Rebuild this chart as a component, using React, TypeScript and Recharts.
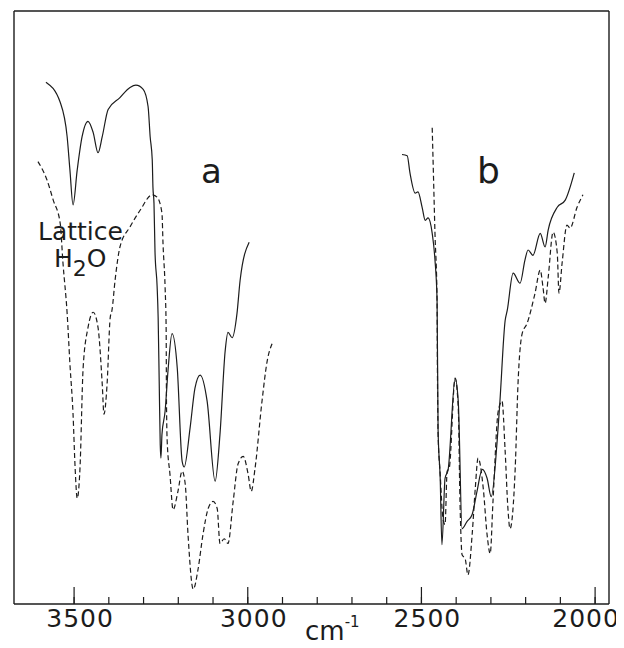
// IR spectrum: solid vs dashed traces, regions a (OH/NH stretch) and b (OD/ND stretch)

import { LineChart, Line, XAxis, YAxis } from 'recharts';

// [wavenumber cm-1, transmittance-ish %]
const solidA: [number, number][] = [
  [3581, 88.0], [3540, 84.6], [3520, 78.8], [3512, 73.2], [3503, 67.3],
  [3491, 73.2], [3477, 78.8], [3460, 81.4], [3445, 79.5], [3431, 76.1],
  [3419, 78.8], [3402, 83.4], [3368, 85.4], [3339, 87.1], [3322, 87.5],
  [3301, 86.8], [3287, 83.9], [3281, 78.8], [3275, 74.9], [3273, 70.3],
  [3270, 67.6], [3267, 59.3], [3261, 53.6], [3258, 48.3], [3255, 37.6],
  [3252, 26.9], [3250, 24.6], [3247, 28.6], [3238, 32.5], [3229, 39.8],
  [3218, 45.6], [3203, 39.8], [3189, 24.1], [3183, 23.1], [3166, 29.7],
  [3152, 36.4], [3137, 38.6], [3117, 34.2], [3094, 20.7], [3080, 28.6],
  [3065, 42.7], [3057, 45.8], [3045, 44.9], [3031, 49.0], [3022, 54.6],
  [2996, 61.0],
];

const dashedA: [number, number][] = [
  [3604, 74.6], [3578, 71.5], [3560, 68.1], [3540, 64.2], [3532, 57.5],
  [3520, 49.0], [3512, 40.5], [3503, 32.0], [3497, 22.9], [3491, 17.8],
  [3483, 22.9], [3474, 39.8], [3460, 46.6], [3445, 49.2], [3431, 46.6],
  [3419, 37.1], [3414, 32.0], [3405, 37.1], [3396, 48.3], [3391, 49.5],
  [3382, 54.6], [3368, 60.2], [3339, 63.6], [3310, 66.4], [3275, 69.0],
  [3261, 68.6], [3247, 65.9], [3244, 60.8], [3238, 53.4], [3235, 46.6],
  [3234, 34.2], [3232, 27.5], [3224, 21.9], [3215, 15.9], [3201, 19.0],
  [3189, 22.4], [3180, 20.2], [3172, 11.7], [3157, 2.5], [3143, 5.9],
  [3129, 11.7], [3114, 16.1], [3100, 17.3], [3088, 16.1], [3080, 10.2],
  [3068, 11.0], [3057, 10.2], [3042, 17.3], [3028, 23.6], [3013, 24.9],
  [2999, 21.9], [2990, 19.0], [2979, 22.9], [2959, 34.2], [2944, 41.0],
  [2930, 43.9],
];

const solidB: [number, number][] = [
  [2556, 75.8], [2541, 75.6], [2533, 72.7], [2518, 69.3], [2510, 69.5],
  [2498, 66.9], [2489, 64.7], [2481, 65.1], [2469, 62.5], [2461, 58.0],
  [2455, 51.2], [2452, 29.2], [2446, 21.2], [2441, 10.0], [2432, 21.2],
  [2423, 22.7], [2403, 38.0], [2394, 34.2], [2383, 12.7], [2369, 13.9],
  [2354, 15.1], [2340, 19.0], [2325, 22.7], [2311, 21.2], [2299, 18.1],
  [2282, 27.5], [2274, 34.2], [2259, 47.8], [2253, 49.5], [2236, 55.8],
  [2216, 54.1], [2202, 58.0], [2193, 59.7], [2179, 58.8], [2158, 62.5],
  [2144, 60.2], [2135, 63.1], [2109, 66.9], [2086, 68.1], [2060, 72.7],
];

const dashedB: [number, number][] = [
  [2469, 80.3], [2466, 73.7], [2461, 62.5], [2455, 51.2], [2454, 39.8],
  [2452, 28.6], [2446, 21.9], [2438, 14.4], [2432, 13.4], [2426, 22.4],
  [2420, 22.9], [2403, 38.1], [2394, 33.1], [2389, 17.3], [2383, 8.3],
  [2374, 7.6], [2366, 4.9], [2354, 11.7], [2345, 19.5], [2337, 24.6],
  [2322, 19.5], [2311, 11.7], [2302, 8.5], [2294, 17.3], [2279, 32.5],
  [2268, 34.2], [2259, 25.8], [2251, 16.1], [2245, 12.7], [2230, 22.9],
  [2222, 37.1], [2210, 45.6], [2196, 47.3], [2173, 52.4], [2158, 56.3],
  [2150, 53.4], [2144, 50.7], [2135, 55.1], [2121, 62.7], [2109, 59.2],
  [2104, 52.4], [2095, 57.5], [2081, 63.9], [2072, 63.4], [2052, 66.9],
  [2035, 69.0],
];

const xTicks = [
  2000, 2100, 2200, 2300, 2400, 2500, 2600, 2700, 2800,
  2900, 3000, 3100, 3200, 3300, 3400, 3500,
];
const xMajor = [2000, 2500, 3000, 3500];

const toRows = (pts: [number, number][]) => pts.map(([wn, t]) => ({ wn, t }));

const INK = '#1c1c1c';
const FONT = '"DejaVu Sans", sans-serif';
const DOMAIN: [number, number] = [1960, 3673];

// bottom axis is mirrored with tickSize 7, so the label origin sits 7px above the axis
function BottomLabel(props: any) {
  const { x, y, payload } = props;
  if (payload.value % 500 !== 0) return <g />;
  const dx = payload.value === 2000 ? -9 : 6;
  const base = y + 7;
  return (
    <g>
      <path d={`M${x},${base}V${base - 17}`} stroke={INK} strokeWidth={1.2} fill="none" />
      <text x={x + dx} y={y + 30} textAnchor="middle" fontSize={25} fontFamily={FONT}
        fill={INK} letterSpacing={1}>
        {payload.value}
      </text>
    </g>
  );
}

// top major ticks (mirrored, tickSize 7): label origin sits 7px below the axis
function TopMajor(props: any) {
  const { x, y } = props;
  const base = y - 7;
  return <path d={`M${x},${base}V${base + 18}`} stroke={INK} strokeWidth={1.2} fill="none" />;
}

export default function App() {
  const W = 616;
  const H = 640;
  return (
    <div style={{ position: 'relative', width: W, height: H }}>
      <style>{'html,body{overflow:hidden}'}</style>
      <LineChart width={W} height={H} margin={{ top: 3, left: 5, right: 14, bottom: 44 }}>
        <XAxis xAxisId="b" dataKey="wn" type="number" domain={DOMAIN} reversed
          ticks={xTicks} interval={0} height={1} mirror tickSize={7} tickMargin={0}
          tickLine={{ stroke: INK, strokeWidth: 1.2 }} tick={<BottomLabel />}
          axisLine={{ stroke: INK, strokeWidth: 1.6 }} />
        <XAxis xAxisId="t" dataKey="wn" type="number" domain={DOMAIN} reversed
          orientation="top" ticks={xTicks} interval={0} height={1} mirror tickSize={7}
          tickMargin={0} tick={false} tickLine={{ stroke: INK, strokeWidth: 1.2 }}
          axisLine={{ stroke: INK, strokeWidth: 1.6 }} />
        <XAxis xAxisId="tM" dataKey="wn" type="number" domain={DOMAIN} reversed
          orientation="top" ticks={xMajor} interval={0} height={1} mirror tickSize={7}
          tickMargin={0} tick={<TopMajor />} tickLine={{ stroke: INK, strokeWidth: 1.2 }}
          axisLine={{ stroke: 'none' }} />
        <YAxis yAxisId="l" type="number" domain={[0, 100]} width={1} tick={false}
          tickLine={false} axisLine={{ stroke: INK, strokeWidth: 1.4 }} />
        <YAxis yAxisId="r" orientation="right" type="number" domain={[0, 100]} width={1}
          tick={false} tickLine={false} axisLine={{ stroke: INK, strokeWidth: 1.4 }} />

        <Line xAxisId="b" yAxisId="l" data={toRows(solidA)} dataKey="t" type="monotone"
          stroke={INK} strokeWidth={1.2} dot={false} isAnimationActive={false} />
        <Line xAxisId="b" yAxisId="l" data={toRows(dashedA)} dataKey="t" type="monotone"
          stroke={INK} strokeWidth={1.2} strokeDasharray="5 3" dot={false} isAnimationActive={false} />
        <Line xAxisId="b" yAxisId="l" data={toRows(solidB)} dataKey="t" type="monotone"
          stroke={INK} strokeWidth={1.2} dot={false} isAnimationActive={false} />
        <Line xAxisId="b" yAxisId="l" data={toRows(dashedB)} dataKey="t" type="monotone"
          stroke={INK} strokeWidth={1.2} strokeDasharray="5 3" dot={false} isAnimationActive={false} />
      </LineChart>

      {/* annotations, in wrapper coords */}
      <svg width={W} height={H} style={{ position: 'absolute', left: 0, top: 0, pointerEvents: 'none' }}>
        <g fontFamily={FONT} fill={INK}>
          <text x={193} y={175} fontSize={34}>a</text>
          <text x={469} y={175} fontSize={36}>b</text>
          <text x={30} y={232} fontSize={25}>Lattice</text>
          <text x={46} y={259} fontSize={25}>
            H<tspan fontSize={22} dy={9}>2</tspan><tspan dy={-9}>O</tspan>
          </text>
          <text x={297} y={632} fontSize={26}>
            cm<tspan fontSize={15} dy={-13}>-1</tspan>
          </text>
        </g>
      </svg>
    </div>
  );
}
